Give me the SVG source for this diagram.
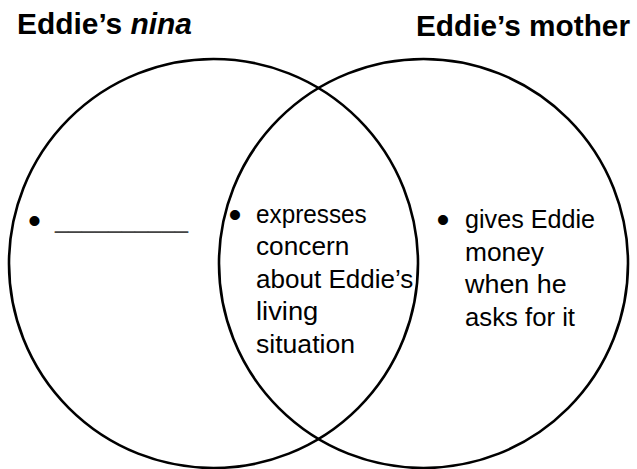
<svg xmlns="http://www.w3.org/2000/svg" width="637" height="469" viewBox="0 0 637 469">
<style>
.bg{fill:#fff}
.circ{fill:none;stroke:#000;stroke-width:2.6}
.title{font-family:"Liberation Sans",Arial,sans-serif;font-weight:bold;fill:#000}
.body{font-family:"Liberation Sans",Arial,sans-serif;font-size:26px;fill:#000}
.bul{font-family:"Liberation Sans",Arial,sans-serif;font-size:37px;fill:#000;text-anchor:middle}
.blank{font-family:"Liberation Sans",Arial,sans-serif;font-size:26px;fill:#444}
</style>
<rect class="bg" x="0" y="0" width="637" height="469"/>
<g id="connectors"></g>
<g id="set-nina">
  <circle class="circ" cx="213.5" cy="263.5" r="204.5"/>
  <text class="title" x="17" y="34" font-size="29" textLength="175" lengthAdjust="spacingAndGlyphs">Eddie’s <tspan font-style="italic">nina</tspan></text>
  <text class="bul" x="34.5" y="233">•</text>
  <text class="blank" x="55" y="228" textLength="133" lengthAdjust="spacingAndGlyphs">__________</text>
</g>
<g id="set-mother">
  <circle class="circ" cx="423.5" cy="263.5" r="204.5"/>
  <text class="title" x="416" y="35.5" font-size="30" textLength="214" lengthAdjust="spacingAndGlyphs">Eddie’s mother</text>
  <text class="bul" x="443" y="232">•</text>
  <text class="body" x="465" y="228" textLength="130" lengthAdjust="spacingAndGlyphs">gives Eddie</text>
  <text class="body" x="465" y="260.5" textLength="79" lengthAdjust="spacingAndGlyphs">money</text>
  <text class="body" x="465" y="293" textLength="101.7" lengthAdjust="spacingAndGlyphs">when he</text>
  <text class="body" x="465" y="325.5" textLength="110" lengthAdjust="spacingAndGlyphs">asks for it</text>
</g>
<g id="set-both">
  <text class="bul" x="235" y="227">•</text>
  <text class="body" x="256" y="222.5" textLength="110.7" lengthAdjust="spacingAndGlyphs">expresses</text>
  <text class="body" x="256" y="255" textLength="93.3" lengthAdjust="spacingAndGlyphs">concern</text>
  <text class="body" x="256" y="287.5" textLength="157.3" lengthAdjust="spacingAndGlyphs">about Eddie’s</text>
  <text class="body" x="256" y="320" textLength="62.3" lengthAdjust="spacingAndGlyphs">living</text>
  <text class="body" x="256" y="352.5" textLength="99" lengthAdjust="spacingAndGlyphs">situation</text>
</g>
</svg>
